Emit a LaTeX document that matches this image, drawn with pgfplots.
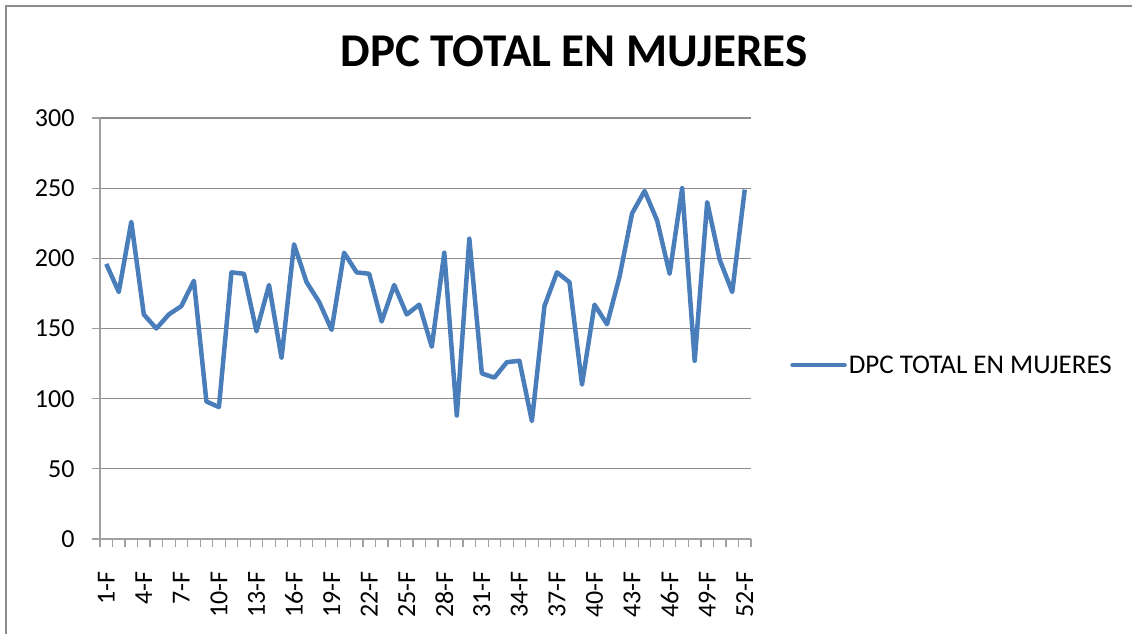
\documentclass[border=0pt]{standalone}
\usepackage{pgfplots}
\pgfplotsset{compat=1.18}
\usepackage{fontspec}
\setmainfont{Carlito}
\definecolor{serieblue}{HTML}{4A7EBB}
\definecolor{gridgray}{HTML}{8C8C8C}
\definecolor{axisgray}{HTML}{A0A0A0}
\begin{document}
\begin{tikzpicture}[x=1pt,y=1pt]
\path[use as bounding box] (0,0) rectangle (1132,634);
\draw[gridgray, line width=2pt] (6,0) -- (6,628) -- (1132,628);
\begin{axis}[
  at={(100pt,95pt)}, anchor=south west,
  scale only axis, width=651pt, height=421pt,
  xmin=0.5, xmax=52.5, ymin=0, ymax=300,
  axis x line*=bottom, axis y line*=left,
  axis line style={axisgray, line width=1.2pt},
  xtick={1,4,...,52},
  xticklabels={1-F,4-F,7-F,10-F,13-F,16-F,19-F,22-F,25-F,28-F,31-F,34-F,37-F,40-F,43-F,46-F,49-F,52-F},
  minor xtick={0.5,1.5,...,52.5},
  ytick={0,50,...,300},
  tick align=outside,
  major tick length=8pt, minor tick length=8pt,
  x tick style={draw=none},
  minor x tick style={draw=axisgray, line width=1.2pt},
  y tick style={draw=axisgray, line width=1.2pt},
  ymajorgrids, grid style={gridgray, line width=1.2pt},
  /pgf/number format/assume math mode=true,
  tick label style={font=\fontsize{26}{30}\selectfont, text=black},
  xticklabel style={rotate=90, anchor=east},
  xticklabel shift=21pt,
  yticklabel shift=14pt,
  title={DPC TOTAL EN MUJERES},
  title style={at={(0.728,1)}, anchor=base, yshift=45pt, font=\bfseries\fontsize{47}{52}\selectfont},
  legend style={at={(1.06,0.413)}, anchor=west, draw=none, fill=none, inner sep=0pt,
    font=\fontsize{27}{31}\selectfont, legend cell align=left},
  legend image code/.code={\draw[#1, line cap=round] (0pt,0pt) -- (52pt,0pt);},
]
\addplot[serieblue, line width=4.5pt, line join=round] coordinates {
(1,196) (2,176) (3,226) (4,160) (5,150) (6,160) (7,166) (8,184) (9,98) (10,94)
(11,190) (12,189) (13,148) (14,181) (15,129) (16,210) (17,183) (18,169) (19,149) (20,204)
(21,190) (22,189) (23,155) (24,181) (25,160) (26,167) (27,137) (28,204) (29,88) (30,214)
(31,118) (32,115) (33,126) (34,127) (35,84) (36,166) (37,190) (38,183) (39,110) (40,167)
(41,153) (42,187) (43,232) (44,248) (45,227) (46,189) (47,250) (48,127) (49,240) (50,199)
(51,176) (52,249)
};
\addlegendentry{DPC TOTAL EN MUJERES}
\end{axis}
\end{tikzpicture}
\end{document}
